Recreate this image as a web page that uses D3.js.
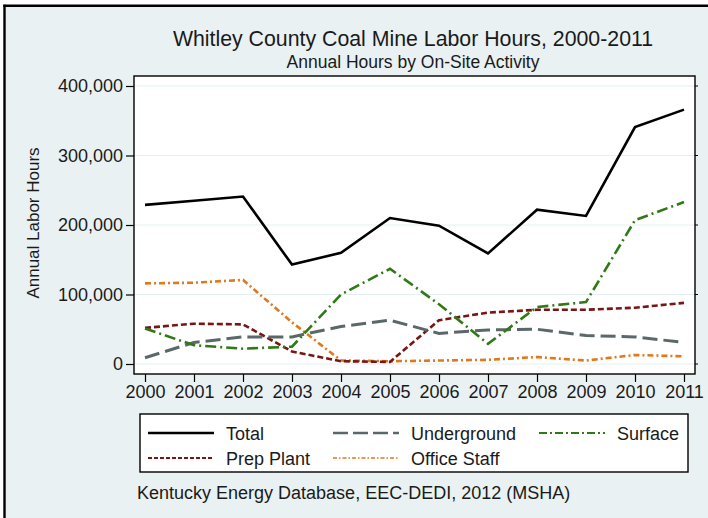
<!DOCTYPE html>
<html>
<head>
<meta charset="utf-8">
<script src="https://cdn.jsdelivr.net/npm/d3@7"></script>
<style>
  html, body { margin: 0; padding: 0; background: #ffffff; }
  svg { display: block; }
  text { font-family: "Liberation Sans", Arial, Helvetica, sans-serif; fill: #1a1a1a; }
</style>
</head>
<body>
<svg id="chart" width="708" height="518"></svg>
<script>
// ---------------- data ----------------
const years = [2000, 2001, 2002, 2003, 2004, 2005, 2006, 2007, 2008, 2009, 2010, 2011];
const totalHours       = [229000, 235000, 241000, 143000, 160000, 210000, 199000, 159000, 222000, 213000, 341000, 366000];
const undergroundHours = [9000, 31000, 39000, 39000, 54000, 63000, 44000, 49000, 50000, 41000, 39000, 31000];
const surfaceHours     = [51000, 27000, 22000, 25000, 100000, 137000, 86000, 29000, 82000, 89000, 207000, 233000];
const prepPlantHours   = [52000, 58000, 57000, 18000, 4000, 3000, 63000, 74000, 78000, 78000, 81000, 88000];
const officeStaffHours = [116000, 117000, 121000, 60000, 5000, 4000, 5000, 6000, 10000, 5000, 13000, 11000];
const yTicks = [0, 100000, 200000, 300000, 400000];
const seriesNames = ["Total", "Underground", "Surface", "Prep Plant", "Office Staff"];

const titleText = "Whitley County Coal Mine Labor Hours, 2000-2011";
const subtitleText = "Annual Hours by On-Site Activity";
const yAxisTitle = "Annual Labor Hours";
const noteText = "Kentucky Energy Database, EEC-DEDI, 2012 (MSHA)";

// ---------------- styles ----------------
const styles = {
  "Total":        { color: "#000000", width: 2.6, dash: null,          lw: 2.4, ldash: null },
  "Underground":  { color: "#5b6869", width: 3.0, dash: "15,6",        lw: 2.6, ldash: "15,5" },
  "Surface":      { color: "#2f7a17", width: 2.6, dash: "11,4,2,4",    lw: 2.2, ldash: "8,3,2,3" },
  "Prep Plant":   { color: "#7a1515", width: 2.6, dash: "6,3",         lw: 1.8, ldash: "4,2" },
  "Office Staff": { color: "#e0781e", width: 2.6, dash: "6,3,2,3",     lw: 1.6, ldash: "4,2,1.5,2" }
};
const seriesData = {
  "Total": totalHours,
  "Underground": undergroundHours,
  "Surface": surfaceHours,
  "Prep Plant": prepPlantHours,
  "Office Staff": officeStaffHours
};
const drawOrder = ["Office Staff", "Prep Plant", "Underground", "Surface", "Total"];

const svg = d3.select("#chart");

// outer background
svg.append("rect").attr("x", 0).attr("y", 0).attr("width", 708).attr("height", 518).attr("fill", "#ffffff");
svg.append("rect").attr("x", 4.5).attr("y", 5.8).attr("width", 710).attr("height", 520)
  .attr("fill", "#e9f1f2");
svg.append("line").attr("x1", 4.5).attr("x2", 4.5).attr("y1", 4.7).attr("y2", 518)
  .attr("stroke", "#000").attr("stroke-width", 2.4);
svg.append("line").attr("x1", 3.3).attr("x2", 708).attr("y1", 5.8).attr("y2", 5.8)
  .attr("stroke", "#000").attr("stroke-width", 2.4);

// plot region
const plot = { left: 134, right: 695, top: 76, bottom: 374 };
const x = d3.scaleLinear().domain([2000, 2011]).range([145, 684]);
const y = d3.scaleLinear().domain([0, 400000]).range([364, 86]);

svg.append("rect")
  .attr("x", plot.left).attr("y", plot.top)
  .attr("width", plot.right - plot.left).attr("height", plot.bottom - plot.top)
  .attr("fill", "#ffffff");

// gridlines
svg.append("g").selectAll("line").data(yTicks).join("line")
  .attr("x1", plot.left).attr("x2", plot.right)
  .attr("y1", d => y(d)).attr("y2", d => y(d))
  .attr("stroke", "#e6eff0").attr("stroke-width", 1.2);

// lines
const lineGen = d3.line().x((d, i) => x(years[i])).y(d => y(d));
const lg = svg.append("g");
drawOrder.forEach(name => {
  const s = styles[name];
  lg.append("path")
    .datum(seriesData[name])
    .attr("d", lineGen)
    .attr("fill", "none")
    .attr("stroke", s.color)
    .attr("stroke-width", s.width)
    .attr("stroke-dasharray", s.dash)
    .attr("stroke-linejoin", "miter")
    .attr("stroke-linecap", "butt");
});

// plot border
svg.append("rect")
  .attr("x", plot.left).attr("y", plot.top)
  .attr("width", plot.right - plot.left).attr("height", plot.bottom - plot.top)
  .attr("fill", "none").attr("stroke", "#000").attr("stroke-width", 1.4);

// y axis
const yAxis = d3.axisLeft(y).tickValues(yTicks).tickSize(8).tickPadding(3)
  .tickFormat(d3.format(","));
const yg = svg.append("g").attr("transform", `translate(${plot.left},0)`).call(yAxis);
yg.select(".domain").remove();
yg.selectAll(".tick line").attr("stroke", "#000").attr("stroke-width", 1.2);
yg.selectAll(".tick text").attr("font-size", 18).attr("fill", "#1a1a1a")
  .attr("font-family", "Liberation Sans, Arial, sans-serif");

// small right-side ticks
svg.append("g").selectAll("line").data(yTicks).join("line")
  .attr("x1", plot.right).attr("x2", plot.right + 3)
  .attr("y1", d => y(d)).attr("y2", d => y(d))
  .attr("stroke", "#000").attr("stroke-width", 1);

// x axis
const xAxis = d3.axisBottom(x).tickValues(years).tickSize(8).tickPadding(3)
  .tickFormat(d3.format("d"));
const xg = svg.append("g").attr("transform", `translate(0,${plot.bottom})`).call(xAxis);
xg.select(".domain").remove();
xg.selectAll(".tick line").attr("stroke", "#000").attr("stroke-width", 1.2);
xg.selectAll(".tick text").attr("font-size", 18).attr("fill", "#1a1a1a")
  .attr("font-family", "Liberation Sans, Arial, sans-serif");

// y title
svg.append("text")
  .attr("transform", `translate(39,${(y(0) + y(400000)) / 2 - 2}) rotate(-90)`)
  .attr("text-anchor", "middle")
  .attr("font-size", 17)
  .text(yAxisTitle);

// titles
svg.append("text").attr("x", 413).attr("y", 46).attr("text-anchor", "middle")
  .attr("font-size", 21.3).text(titleText);
svg.append("text").attr("x", 413).attr("y", 68).attr("text-anchor", "middle")
  .attr("font-size", 17.5).text(subtitleText);

// legend
const legend = { x: 140, y: 414, w: 548, h: 58 };
svg.append("rect").attr("x", legend.x).attr("y", legend.y)
  .attr("width", legend.w).attr("height", legend.h)
  .attr("fill", "#ffffff").attr("stroke", "#000").attr("stroke-width", 1.4);
const legendPos = {
  "Total":        { x: 148, y: 433 },
  "Underground":  { x: 333, y: 433 },
  "Surface":      { x: 539, y: 433 },
  "Prep Plant":   { x: 148, y: 458 },
  "Office Staff": { x: 333, y: 458 }
};
seriesNames.forEach(name => {
  const p = legendPos[name], s = styles[name];
  svg.append("line")
    .attr("x1", p.x).attr("x2", p.x + 66)
    .attr("y1", p.y).attr("y2", p.y)
    .attr("stroke", s.color).attr("stroke-width", s.lw)
    .attr("stroke-dasharray", s.ldash);
  svg.append("text").attr("x", p.x + 78).attr("y", p.y + 6.5)
    .attr("font-size", 18).text(name);
});

// note
svg.append("text").attr("x", 137).attr("y", 499).attr("font-size", 18).text(noteText);
</script>
</body>
</html>
